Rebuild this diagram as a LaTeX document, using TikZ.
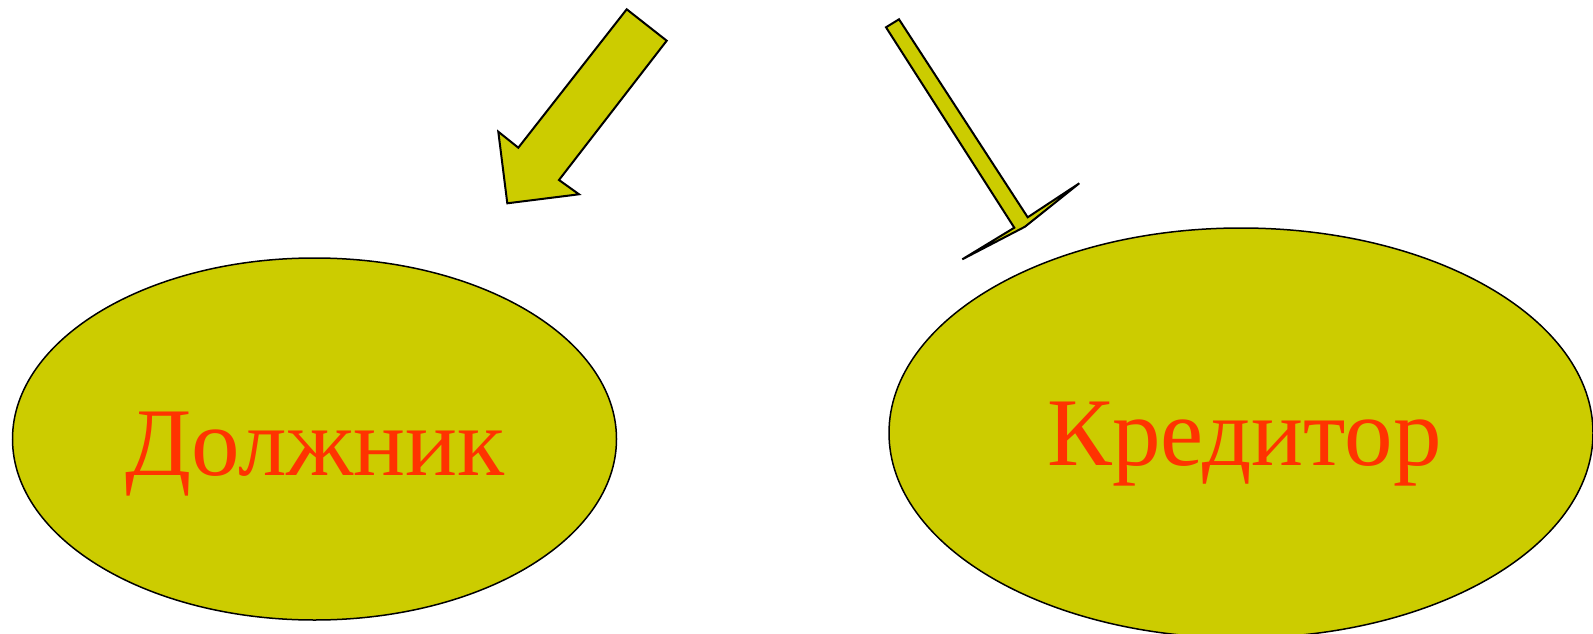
\documentclass[tikz,border=0pt]{standalone}
\usepackage{fontspec}
\setmainfont{Liberation Serif}
\definecolor{olive}{HTML}{CCCC00}
\definecolor{txtred}{HTML}{FF3300}
\tikzset{
  blob/.style={fill=olive, draw=black, line width=1.5pt},
  arr/.style={fill=olive, draw=black, line width=2pt, line join=miter},
  lbl/.style={text=txtred, font=\fontsize{97}{110}\selectfont, anchor=base, inner sep=0pt}
}
\begin{document}
\begin{tikzpicture}[x=1pt,y=-1pt]
\useasboundingbox (0,0) rectangle (1593,634);
\begin{scope}
\clip (0,0) rectangle (1593,634);
\draw[blob] (314.5,439) ellipse [x radius=302, y radius=181];
\draw[blob] (1241,433) ellipse [x radius=352, y radius=205];
\node[lbl] (d) at (315,475) {Должник};
\node[lbl] (k) at (1244.5,465) {Кредитор};
\draw[arr] (626.7,9.3) -- (666.7,40.7) -- (559,180) -- (579,194.3) -- (507.3,203.3) -- (498.3,131.7) -- (518.3,147.7) -- cycle;
\draw[arr] (886,27.3) -- (899,19.3) -- (1027.7,217.3) -- (1079.3,183.3) -- (1025,226.7) -- (962.3,259.3) -- (1014.3,227.7) -- cycle;
\end{scope}
\end{tikzpicture}
\end{document}
